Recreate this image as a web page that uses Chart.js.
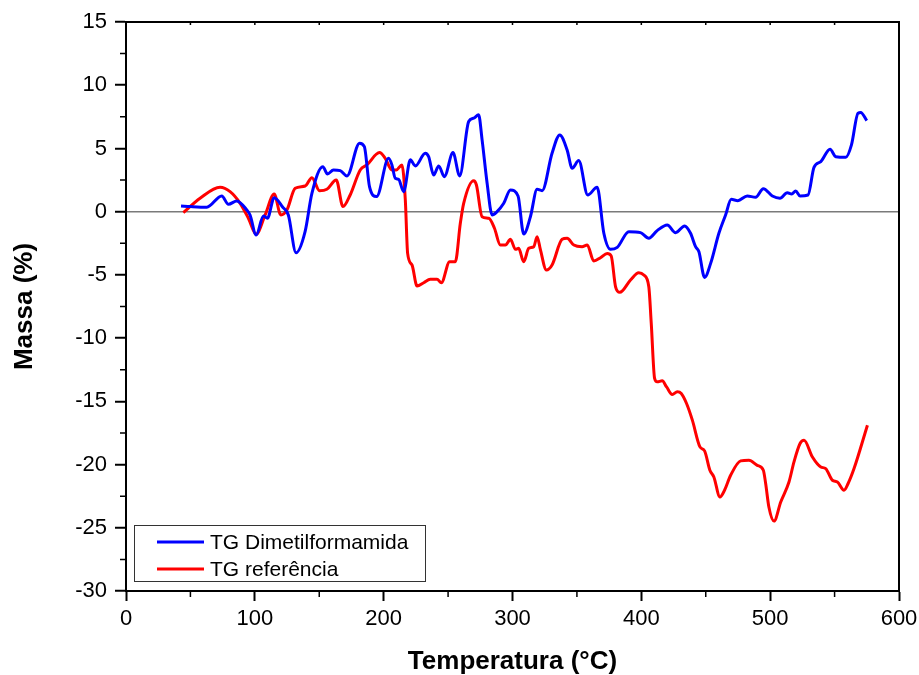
<!DOCTYPE html>
<html>
<head>
<meta charset="utf-8">
<script src="https://cdn.jsdelivr.net/npm/chart.js@4/dist/chart.umd.min.js"></script>
<style>
  html, body { margin: 0; padding: 0; background: #fff; }
  #wrap { width: 919px; height: 675px; position: relative; }
</style>
</head>
<body>
<div id="wrap"><canvas id="tg"></canvas></div>
<script>
// TG Dimetilformamida: temperature (°C) and mass change (%)
var tempDmf = [42.7, 50, 62.7, 74.3, 79.5, 86, 93.8, 96.3, 101, 106.7, 109.8, 115, 121.7, 126, 132, 139, 144.3,
  152.8, 156.4, 161, 166.3, 171.5, 181.3, 185, 189, 194.5, 203.8, 206.4, 209, 211.6, 215.5, 220.7, 224.6,
  232.3, 234.9, 238.8, 242.7, 247.1, 253.8, 259, 266, 269.9, 273.7, 276.4, 280.3, 284.2, 288, 293.2, 298.4,
  304.3, 308.7, 313.9, 319.1, 323, 330.7, 336.7, 342.4, 346.3, 351.4, 358.4, 365.7, 370.9, 376, 381.3,
  390.3, 399.4, 405.8, 412.3, 420.1, 426.6, 433.6, 438.2, 442.1, 444.7, 449.1, 453.8, 460.2, 465.4, 469.8,
  474.9, 482.2, 488.7, 494.7, 501.7, 507.6, 513.3, 516.7, 519.8, 523.2, 529.4, 534, 539.3, 546.5, 550.9,
  558.7, 563.1, 568.2, 570.3, 575];
var massDmf = [0.45, 0.4, 0.35, 1.24, 0.58, 0.85, 0.13, -0.26, -1.85, -0.34, -0.52, 1.1, 0.35, -0.26, -3.25, -1.58, 1.45,
  3.56, 2.98, 3.3, 3.25, 2.83, 5.42, 5.15, 1.98, 1.19, 4.22, 3.7, 2.64, 2.56, 1.58, 4.1, 3.62,
  4.62, 4.35, 2.9, 3.62, 2.77, 4.67, 2.83, 7.13, 7.39, 7.66, 5.68, 2.25, -0.26, 0, 0.66, 1.72,
  1.24, -1.77, -0.4, 1.77, 1.66, 4.62, 6.07, 4.88, 3.43, 4.04, 1.32, 1.93, -1.71, -2.98, -2.82,
  -1.58, -1.66, -2.1, -1.5, -1.05, -1.66, -1.13, -1.71, -2.77, -3.17, -5.2, -4.09, -1.71, -0.26, 0.98,
  0.87, 1.24, 1.14, 1.82, 1.24, 1.06, 1.5, 1.4, 1.64, 1.24, 1.32, 3.51, 3.96, 4.94, 4.35,
  4.3, 5.28, 7.79, 7.84, 7.2];

// TG referência
var tempRef = [44.5, 57.5, 73, 80.8, 88.6, 95, 101, 108, 115, 120.2, 124.9, 131.3, 139.1, 144.3, 150.2, 155.9,
  163.2, 168.4, 174, 181.8, 187, 196.8, 201.2, 206.4, 209.8, 214.2, 216.8, 218.6, 222, 225.9, 231.1,
  236.2, 241.4, 244.8, 251.2, 255.6, 259.5, 262.1, 269.9, 272, 276.4, 281.6, 286, 290.6, 294.5, 298.4,
  302.3, 304.8, 308.7, 312.6, 316.5, 319.1, 321.7, 326.3, 330.7, 338.5, 342.4, 347.6, 354, 358, 363.1,
  368.3, 373.5, 376.6, 380, 383.3, 391.6, 398, 401.9, 405.8, 407.7, 410.3, 412.3, 416.2, 419.6, 424,
  427.9, 431, 435.1, 439.6, 445.5, 449.1, 453.2, 456.3, 461, 464.6, 469.3, 477.1, 483.5, 490, 494.7,
  496.5, 499, 503, 508.2, 514.6, 518.5, 523.2, 526.3, 532.8, 539.3, 543.1, 548.3, 552.2, 557.3, 560.5,
  565.1, 575.5];
var massRef = [-0.08, 1.06, 1.93, 1.58, 0.66, -0.52, -1.79, -0.26, 1.4, -0.26, 0.13, 1.85, 2.03, 2.69, 1.66, 1.77,
  2.51, 0.4, 1.32, 3.3, 3.7, 4.67, 4.22, 3.3, 3.3, 3.7, 0.93, -3.3, -4.22, -5.88, -5.62,
  -5.35, -5.35, -5.62, -3.96, -3.96, -0.92, 0.66, 2.45, 2.11, -0.4, -0.52, -1.31, -2.64, -2.64, -2.19,
  -2.98, -2.9, -3.96, -2.9, -2.77, -1.98, -3.03, -4.62, -4.22, -2.19, -2.1, -2.64, -2.77, -2.64, -3.9,
  -3.64, -3.3, -3.5, -5.94, -6.38, -5.41, -4.83, -5.01, -5.94, -8.84, -13.19, -13.46, -13.38, -13.86, -14.46,
  -14.25, -14.38, -15.17, -16.49, -18.6, -18.92, -20.45, -20.98, -22.57, -22.03, -20.85, -19.71, -19.66, -20.06, -20.45,
  -21.5, -23.36, -24.47, -22.96, -21.38, -19.79, -18.34, -18.08, -19.4, -20.19, -20.32, -21.24, -21.38, -22.03, -21.5,
  -20.32, -16.89];

var seriesNames = ['TG Dimetilformamida', 'TG referência'];
var seriesColors = ['#0000ff', '#ff0000'];

var FONT = "'Liberation Sans', Arial, sans-serif";

function pairs(xs, ys) {
  var out = [];
  for (var i = 0; i < xs.length; i++) out.push({x: xs[i], y: ys[i]});
  return out;
}

// frame on top/right, minor ticks, legend box
var decorations = {
  id: 'decorations',
  afterDraw: function(chart) {
    var c = chart.ctx;
    var a = chart.chartArea;
    var xs = chart.scales.x, ys = chart.scales.y;
    c.save();
    c.strokeStyle = '#000';
    c.lineWidth = 2;
    c.beginPath();
    c.moveTo(a.left, a.top); c.lineTo(a.right, a.top); c.lineTo(a.right, a.bottom);
    c.stroke();

    c.lineWidth = 1.5;
    c.beginPath();
    for (var v = -27.5; v < 15; v += 5) {
      var py = ys.getPixelForValue(v);
      c.moveTo(a.left - 6, py); c.lineTo(a.left, py);
    }
    for (var t = 50; t < 600; t += 100) {
      var px = xs.getPixelForValue(t);
      c.moveTo(px, a.bottom); c.lineTo(px, a.bottom + 6);
    }
    for (var t2 = 50; t2 < 600; t2 += 50) {
      var px2 = xs.getPixelForValue(t2);
      c.moveTo(px2, a.top); c.lineTo(px2, a.top + 3);
    }
    c.stroke();

    // legend
    var bx = 134.5, by = 525.5, bw = 291, bh = 56;
    c.fillStyle = '#fff';
    c.fillRect(bx, by, bw, bh);
    c.strokeStyle = '#333';
    c.lineWidth = 1;
    c.strokeRect(bx, by, bw, bh);
    c.font = '21px ' + FONT;
    c.textBaseline = 'middle';
    c.textAlign = 'left';
    var rows = [542, 569];
    for (var i = 0; i < seriesNames.length; i++) {
      c.strokeStyle = seriesColors[i];
      c.lineWidth = 3;
      c.beginPath();
      c.moveTo(157, rows[i]); c.lineTo(204, rows[i]);
      c.stroke();
      c.fillStyle = '#000';
      c.fillText(seriesNames[i], 210, rows[i] + 1);
    }
    c.restore();
  }
};

new Chart(document.getElementById('tg'), {
  type: 'line',
  data: {
    datasets: [
      { label: seriesNames[0], data: pairs(tempDmf, massDmf), borderColor: seriesColors[0] },
      { label: seriesNames[1], data: pairs(tempRef, massRef), borderColor: seriesColors[1] }
    ]
  },
  options: {
    responsive: true,
    maintainAspectRatio: false,
    animation: false,
    layout: { padding: { top: 22, right: 20, left: 0, bottom: 0 } },
    elements: {
      point: { radius: 0 },
      line: { borderWidth: 3, cubicInterpolationMode: 'monotone', fill: false }
    },
    plugins: { legend: { display: false }, tooltip: { enabled: false } },
    scales: {
      x: {
        type: 'linear',
        min: 0, max: 600,
        afterFit: function(s) { s.height = 84; s.paddingLeft = 0; s.paddingRight = 0; },
        ticks: { stepSize: 100, color: '#000', font: { family: FONT, size: 22 }, padding: 5, maxRotation: 0 },
        grid: { drawOnChartArea: false, tickLength: 10, tickWidth: 2, tickColor: '#000' },
        border: { color: '#000', width: 2 },
        title: { display: true, text: 'Temperatura (°C)', color: '#000',
                 font: { family: FONT, size: 26, weight: 'bold', lineHeight: 1 }, padding: { top: 0, bottom: 0 } }
      },
      y: {
        min: -30, max: 15,
        afterFit: function(s) { s.width = 126; s.paddingTop = 0; s.paddingBottom = 0; },
        ticks: { stepSize: 5, color: '#000', font: { family: FONT, size: 22 }, padding: 8 },
        grid: {
          drawOnChartArea: true,
          color: function(ctx) { return ctx.tick && ctx.tick.value === 0 ? '#7a7a7a' : 'rgba(0,0,0,0)'; },
          lineWidth: 1.5,
          tickLength: 11, tickWidth: 2, tickColor: '#000'
        },
        border: { color: '#000', width: 2 },
        title: { display: true, text: 'Massa (%)', color: '#000',
                 font: { family: FONT, size: 26, weight: 'bold', lineHeight: 1 }, padding: { top: 12, bottom: 0 } }
      }
    }
  },
  plugins: [decorations]
});
</script>
</body>
</html>
